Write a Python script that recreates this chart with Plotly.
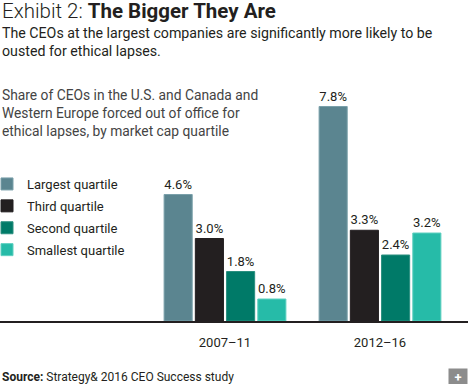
import plotly.graph_objects as go

periods = ["2007–11", "2012–16"]
series_names = ["Largest quartile", "Third quartile", "Second quartile", "Smallest quartile"]
largest = [4.6, 7.8]
third = [3.0, 3.3]
second = [1.8, 2.4]
smallest = [0.8, 3.2]
series_values = [largest, third, second, smallest]
colors = ["#5b8590", "#231f20", "#007a68", "#26bba8"]
edge_colors = ["#7aa0aa", "#231f20", "#2a8f7f", "#5fd0c0"]

W, H = 468, 384
T, B = 20, 63
PH = H - T - B
PX_PER = 27.5


def yp(py):
    return (H - B - py) / PH


fig = go.Figure()
for i, (name, vals, c, ec) in enumerate(zip(series_names, series_values, colors, edge_colors)):
    fig.add_trace(go.Bar(
        x=periods, y=vals, name=name, legendgroup=f"g{i}",
        marker=dict(color=c, line=dict(color=ec, width=1)),
        texttemplate="%{y:.1f}%", textposition="outside",
        textfont=dict(size=13, color="#231f20", family="Roboto"),
        cliponaxis=False,
    ))

ppu = 155.0
x0 = -225.0 / ppu
x1 = x0 + W / ppu

fig.update_layout(
    width=W, height=H,
    margin=dict(l=0, r=0, t=T, b=B, pad=0, autoexpand=False),
    paper_bgcolor="white", plot_bgcolor="white",
    barmode="group", bargap=0.194, bargroupgap=0.1,
    font=dict(family="Roboto", color="#231f20"),
    showlegend=True,
    legend=dict(x=-13 / W, xanchor="left", y=yp(169), yanchor="top",
                font=dict(size=13, color="#231f20", family="Roboto"),
                bgcolor="rgba(0,0,0,0)", traceorder="grouped", tracegroupgap=2),
    xaxis=dict(range=[x0, x1], showline=True, linecolor="#231f20", linewidth=2,
               showgrid=False, zeroline=False, ticks="", fixedrange=True,
               ticklabelstandoff=8,
               tickfont=dict(size=13, color="#231f20", family="Roboto")),
    yaxis=dict(range=[0, PH / PX_PER], visible=False, fixedrange=True),
)

ann = [
    dict(text="Exhibit 2: <b>The Bigger They Are</b>", x=0, y=yp(-2.5), size=20.5, color="#231f20", weight=300),
    dict(text="The CEOs at the largest companies are significantly more likely to be<br>ousted for ethical lapses.",
         x=0, y=yp(22.5), size=14.2, color="#231f20", weight=400),
    dict(text="Share of CEOs in the U.S. and Canada and<br>Western Europe forced out of office for<br>ethical lapses, by market cap quartile",
         x=0, y=yp(84.5), size=13.8, color="#444444", weight=400),
    dict(text="<b>Source:</b> Strategy&amp; 2016 CEO Success study", x=0, y=yp(368), size=12, color="#231f20", weight=400),
]
for a in ann:
    fig.add_annotation(text=a["text"], x=a["x"], y=a["y"], xref="paper", yref="paper",
                       xanchor="left", yanchor="top", showarrow=False, align="left",
                       font=dict(size=a["size"], color=a["color"], family="Roboto", weight=a["weight"]))

fig.add_annotation(text="<b>+</b>", x=1, y=yp(368), xref="paper", yref="paper",
                   xanchor="right", yanchor="top", showarrow=False,
                   width=16, height=14, bgcolor="#8c8c8c",
                   font=dict(size=13, color="white", family="Roboto"))

fig.write_html("out.html", config={"displayModeBar": False},
               post_script="document.body.style.margin='0';document.body.style.overflow='hidden';")
